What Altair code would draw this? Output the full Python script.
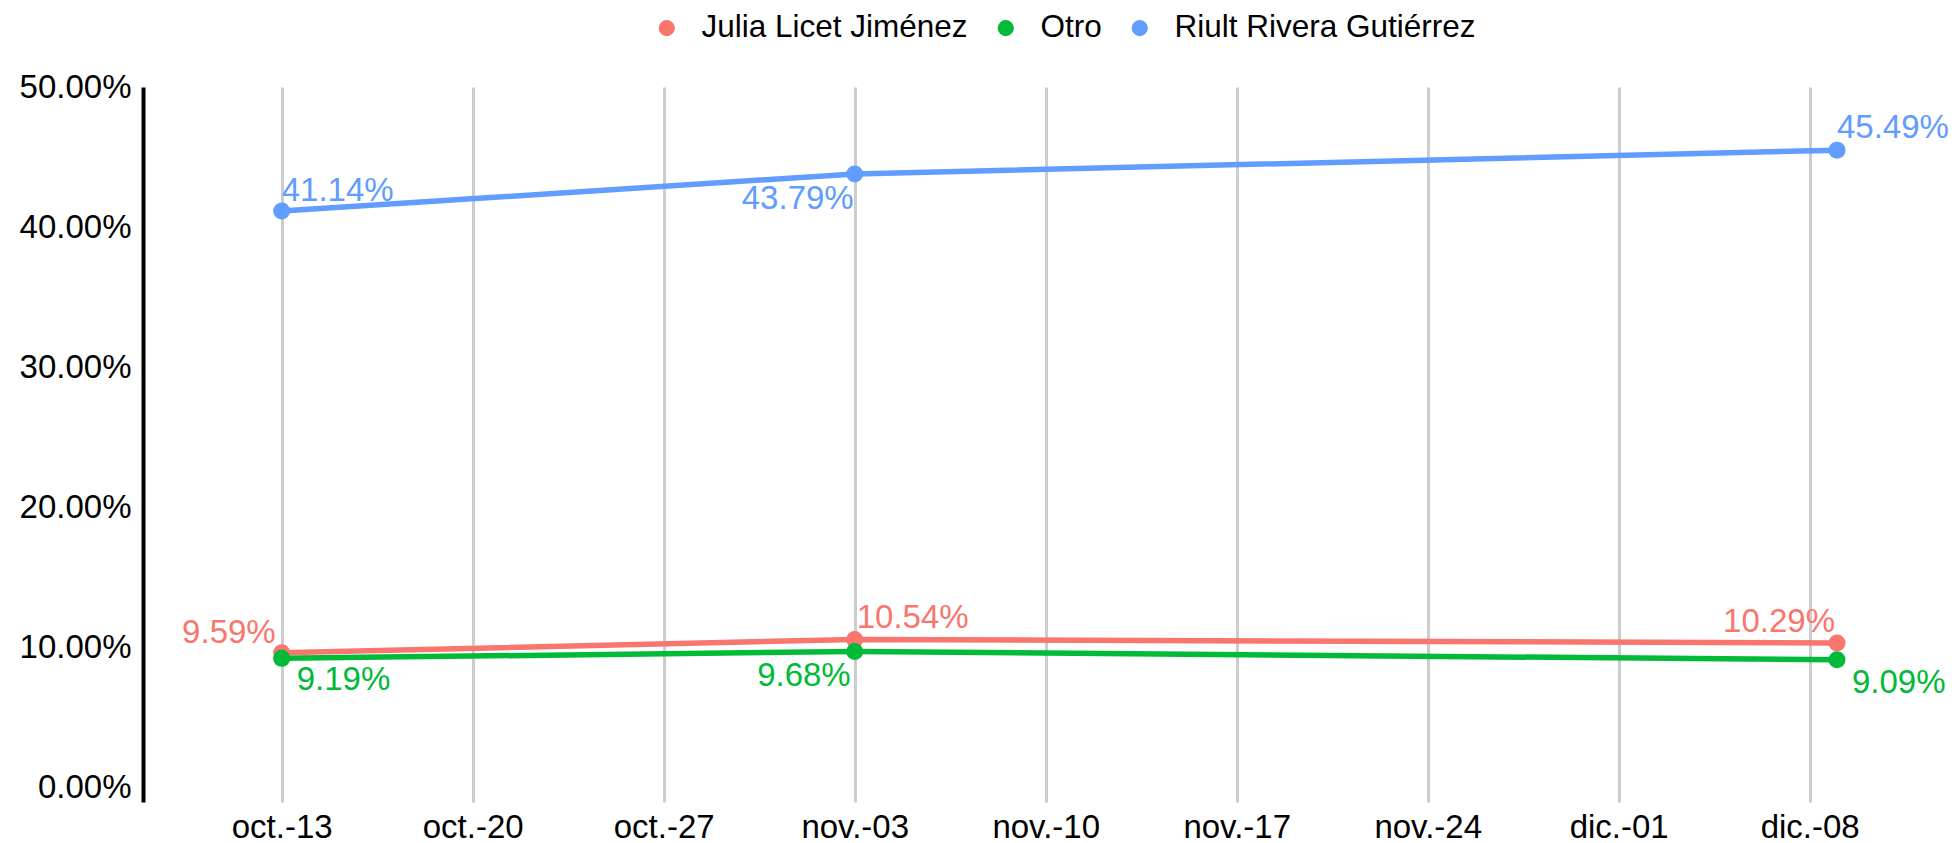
import altair as alt
import pandas as pd

# ---- data ----
dates = ["2024-10-13T00:00:00", "2024-11-03T00:00:00", "2024-12-09T00:00:00"]
series_names = ["Julia Licet Jiménez", "Otro", "Riult Rivera Gutiérrez"]
julia = [0.0959, 0.1054, 0.1029]
otro = [0.0919, 0.0968, 0.0909]
riult = [0.4114, 0.4379, 0.4549]
colors = ["#F8766D", "#00BA38", "#619CFF"]
tick_dates = ["2024-10-13", "2024-10-20", "2024-10-27", "2024-11-03", "2024-11-10",
              "2024-11-17", "2024-11-24", "2024-12-01", "2024-12-08"]
tick_labels = ["oct.-13", "oct.-20", "oct.-27", "nov.-03", "nov.-10",
               "nov.-17", "nov.-24", "dic.-01", "dic.-08"]
y_ticks = [0.0, 0.1, 0.2, 0.3, 0.4, 0.5]

# ---- label placement (style only) ----
label_style = {
    ("Julia Licet Jiménez", 0): ("right", -6, -10),
    ("Julia Licet Jiménez", 1): ("left", 2, -11),
    ("Julia Licet Jiménez", 2): ("right", -2, -11),
    ("Otro", 0): ("left", 15, 32),
    ("Otro", 1): ("right", -4, 35),
    ("Otro", 2): ("left", 15, 33),
    ("Riult Rivera Gutiérrez", 0): ("left", 0, -10),
    ("Riult Rivera Gutiérrez", 1): ("right", -1, 35),
    ("Riult Rivera Gutiérrez", 2): ("left", 0, -12),
}

rows = []
for name, vals in zip(series_names, [julia, otro, riult]):
    for i, (d, v) in enumerate(zip(dates, vals)):
        rows.append({"fecha": d, "serie": name, "valor": v, "idx": i})
df = pd.DataFrame(rows)

FONT = "Liberation Sans"

def dt(s, hours=0):
    y, m, d = [int(p) for p in s.split("-")]
    return alt.DateTime(year=y, month=m, date=d, hours=hours)

label_expr = "[{}][indexof([{}], timeFormat(datum.value, '%Y-%m-%d'))]".format(
    ",".join("'%s'" % t for t in tick_labels),
    ",".join("'%s'" % t for t in tick_dates),
)

x_enc = alt.X(
    "fecha:T",
    scale=alt.Scale(domain=[dt("2024-10-07", 22), dt("2024-12-12", 23)]),
    axis=alt.Axis(
        values=[dt(t) for t in tick_dates],
        labelExpr=label_expr,
        grid=True, gridColor="#cccccc", gridWidth=3,
        domain=False, ticks=False, labelPadding=9,
        labelFontSize=33, labelFont=FONT, labelColor="black",
        title=None,
    ),
)
y_enc = alt.Y(
    "valor:Q",
    scale=alt.Scale(domain=[-0.0107, 0.5], nice=False, zero=False),
    axis=alt.Axis(
        values=y_ticks, format=".2%", grid=False, ticks=False,
        domainColor="black", domainWidth=4, labelPadding=12,
        labelFontSize=33, labelFont=FONT, labelColor="black",
        title=None,
    ),
)
color_scale = alt.Scale(domain=series_names, range=colors)
legend = alt.Legend(
    orient="none", legendX=508, legendY=-75, direction="horizontal",
    title=None, symbolType="circle", symbolSize=260, symbolStrokeWidth=0,
    symbolOpacity=1, labelLimit=0,
    labelFontSize=31.5, labelFont=FONT, labelColor="black",
    labelOffset=19, columnPadding=22, padding=0,
)
color_enc = alt.Color("serie:N", scale=color_scale, legend=legend)

base = alt.Chart(df)

lines = base.mark_line(strokeWidth=5.5).encode(
    x=x_enc, y=y_enc, color=color_enc, detail="serie:N",
)
points = base.mark_circle(size=290, opacity=1).encode(
    x=x_enc, y=y_enc, color=color_enc,
)

text_layers = []
for (name, i), (align, dx, dy) in label_style.items():
    t = base.transform_filter(
        (alt.datum.serie == name) & (alt.datum.idx == i)
    ).mark_text(
        align=align, baseline="alphabetic", dx=dx, dy=dy,
        fontSize=33, font=FONT,
    ).encode(
        x=x_enc, y=y_enc, color=color_enc,
        text=alt.Text("valor:Q", format=".2%"),
    )
    text_layers.append(t)

chart = alt.layer(lines, points, *text_layers).properties(
    width=1802, height=715,
    autosize=alt.AutoSizeParams(type="none"),
    padding={"left": 135, "top": 79, "right": 6, "bottom": 46},
).configure(font=FONT).configure_view(stroke=None)

chart.save("out.html", embed_options={"renderer": "svg", "actions": False})
